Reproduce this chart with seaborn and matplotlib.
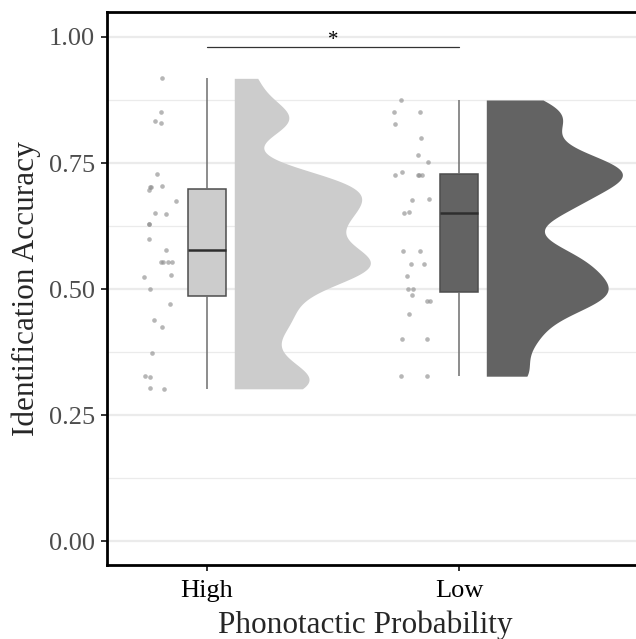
import numpy as np
import pandas as pd
import matplotlib
matplotlib.use("Agg")
import matplotlib.pyplot as plt
import seaborn as sns
from matplotlib.ticker import MultipleLocator

# --- datos ---
grupos = ["High", "Low"]
colores = ["#cccccc", "#636363"]

acc_high = [0.918, 0.851, 0.833, 0.829, 0.728, 0.702, 0.702, 0.696, 0.704, 0.674,
            0.651, 0.649, 0.628, 0.628, 0.599, 0.577, 0.553, 0.553, 0.553, 0.553,
            0.524, 0.528, 0.501, 0.470, 0.438, 0.424, 0.374, 0.327, 0.325, 0.304, 0.302]
jit_high = [-0.180, -0.183, -0.208, -0.182, -0.198, -0.225, -0.222, -0.229, -0.179, -0.124,
            -0.208, -0.164, -0.231, -0.230, -0.229, -0.162, -0.183, -0.176, -0.154, -0.139,
            -0.250, -0.142, -0.227, -0.146, -0.212, -0.180, -0.219, -0.246, -0.227, -0.226, -0.172]

acc_low = [0.875, 0.851, 0.851, 0.827, 0.800, 0.765, 0.751, 0.726, 0.732, 0.726,
           0.726, 0.726, 0.677, 0.679, 0.651, 0.652, 0.575, 0.576, 0.550, 0.550,
           0.526, 0.501, 0.501, 0.488, 0.476, 0.476, 0.451, 0.401, 0.401, 0.327, 0.327]
jit_low = [-0.229, -0.259, -0.154, -0.254, -0.150, -0.163, -0.122, -0.255, -0.226, -0.162,
           -0.158, -0.148, -0.187, -0.120, -0.218, -0.198, -0.221, -0.155, -0.190, -0.139,
           -0.208, -0.204, -0.183, -0.187, -0.127, -0.116, -0.198, -0.227, -0.127, -0.229, -0.127]

df = pd.DataFrame({
    "prob": ["High"] * len(acc_high) + ["Low"] * len(acc_low),
    "acc": acc_high + acc_low,
    "jit": jit_high + jit_low,
})
df["pos"] = df["prob"].map({g: i for i, g in enumerate(grupos)}) + df["jit"]

sns.set_theme(style="white")
plt.rcParams["font.family"] = ["Liberation Serif", "DejaVu Serif"]

fig = plt.figure(figsize=(6.36, 6.39), dpi=100)
ax = fig.add_axes([107 / 636, 74 / 639, 529 / 636, 553 / 639])

# --- rejilla ---
ax.set_axisbelow(True)
ax.yaxis.set_major_locator(MultipleLocator(0.25))
ax.yaxis.set_minor_locator(MultipleLocator(0.125))
ax.grid(True, which="major", color="#ebebeb", lw=1.6)
ax.grid(True, which="minor", axis="y", color="#ebebeb", lw=0.9)

# --- medio violin (densidad) ---
for i, (g, vals) in enumerate(zip(grupos, [acc_high, acc_low])):
    v = np.array(vals)
    iqr = np.subtract(*np.percentile(v, [75, 25]))
    bw = 0.9 * min(v.std(ddof=1), iqr / 1.34) * len(v) ** -0.2 * 0.5
    yy = np.linspace(v.min(), v.max(), 300)
    dens = np.exp(-0.5 * ((yy[:, None] - v[None, :]) / bw) ** 2).sum(axis=1)
    dens = dens / dens.max() * 0.54
    ax.fill_betweenx(yy, i + 0.108, i + 0.108 + dens, color=colores[i], lw=0, zorder=2)

# --- puntos ---
sns.scatterplot(data=df, x="pos", y="acc", color="#8f8f8f", alpha=0.65, s=11,
                linewidth=0, ax=ax, zorder=3)

# --- cajas ---
sns.boxplot(data=df, x="prob", y="acc", hue="prob", palette=colores, legend=False,
            width=0.15, linewidth=1.1, linecolor="#4d4d4d", fliersize=0,
            whiskerprops={"color": "#6e6e6e"}, capprops={"visible": False},
            medianprops={"color": "#2e2e2e", "lw": 1.8}, ax=ax, zorder=4)

# --- significancia ---
ax.plot([0, 1], [0.981, 0.981], color="#333333", lw=0.9, zorder=5)
ax.text(0.5, 0.974, "*", ha="center", va="bottom", fontsize=15, color="black")

ax.set_xlim(-0.397, 1.702)
ax.set_ylim(-0.0476, 1.0496)
ax.set_xticks([0, 1])
ax.set_xticklabels(grupos)
ax.set_yticks([0, 0.25, 0.5, 0.75, 1.0])
ax.set_yticklabels(["0.00", "0.25", "0.50", "0.75", "1.00"])

for s in ["left", "bottom", "top"]:
    ax.spines[s].set_visible(True)
    ax.spines[s].set_color("black")
    ax.spines[s].set_linewidth(2.0)
ax.spines["right"].set_visible(False)

ax.tick_params(axis="both", which="major", length=4.5, width=1.4, color="#333333",
               labelsize=19, pad=4, bottom=True, left=True)
ax.tick_params(axis="x", pad=6)
ax.tick_params(axis="y", which="minor", length=0, left=False)
ax.tick_params(axis="y", labelcolor="#4d4d4d")
ax.tick_params(axis="x", labelcolor="black")

ax.set_xlabel("Phonotactic Probability", fontsize=22.5)
ax.set_ylabel("Identification Accuracy", fontsize=22.5)
ax.xaxis.set_label_coords(0.488, -0.083)
ax.yaxis.set_label_coords(-0.125, 0.5)

fig.savefig("out.png", dpi=100)
